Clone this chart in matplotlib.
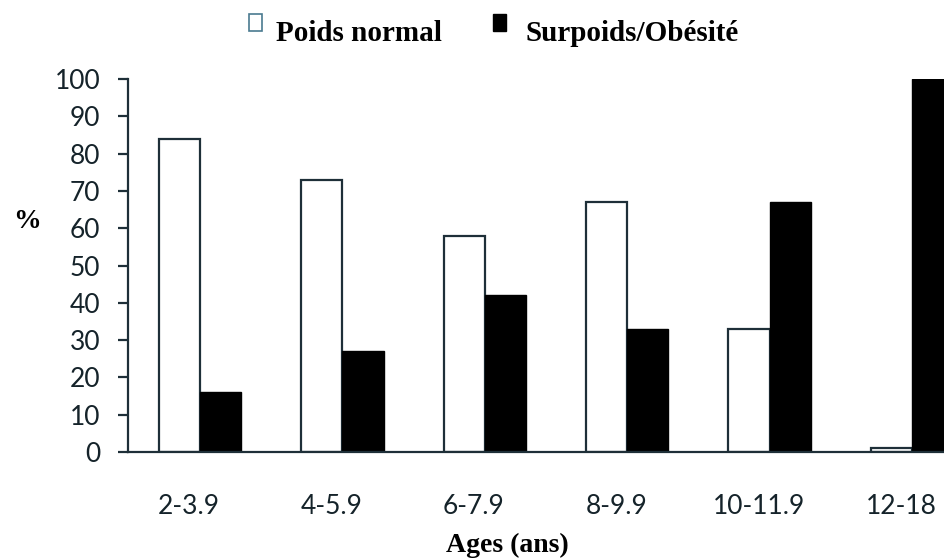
import matplotlib
matplotlib.use('Agg')
import matplotlib.pyplot as plt
import matplotlib.transforms as mtransforms
from matplotlib.patches import Rectangle
import numpy as np

# data
age_groups = ['2-3.9', '4-5.9', '6-7.9', '8-9.9', '10-11.9', '12-18']
poids_normal = [84, 73, 58, 67, 33, 1]
surpoids = [16, 27, 42, 33, 67, 100]
yticks = list(range(0, 101, 10))

W, H = 945, 560
edge = '#1e2f38'
serif = 'Liberation Serif'
sans = 'Lato'

fig = plt.figure(figsize=(W / 100, H / 100), dpi=100)
ax = fig.add_axes([128 / W, (H - 452) / H, 1 - 128 / W, (452 - 79) / H])

x = np.arange(len(age_groups))
bw = 0.29
ax.bar(x - bw / 2, poids_normal, bw, color='white', edgecolor=edge, linewidth=1.6)
ax.bar(x + bw / 2, surpoids, bw, color='black', edgecolor='black', linewidth=1.0)

ax.set_xlim(-0.506, 5.232)
ax.set_ylim(0, 100)
ax.set_yticks(yticks)
ax.set_xticks(x)
ax.set_xticklabels(age_groups)

for s in ['top', 'right']:
    ax.spines[s].set_visible(False)
for s in ['left', 'bottom']:
    ax.spines[s].set_color(edge)
    ax.spines[s].set_linewidth(1.6)
ax.spines['bottom'].set_zorder(3)

ax.tick_params(axis='y', direction='out', length=7, width=1.6, color=edge,
               pad=13, labelsize=19, labelcolor='#15232a')
ax.tick_params(axis='x', length=0, pad=30, labelsize=19, labelcolor='#15232a')
for lab in ax.get_xticklabels() + ax.get_yticklabels():
    lab.set_fontfamily(sans)

# x labels sit a little left of the group centres in the reference
shift = mtransforms.ScaledTranslation(-11 / 100, 0, fig.dpi_scale_trans)
for lab in ax.get_xticklabels():
    lab.set_transform(lab.get_transform() + shift)

# axis titles
fig.text(507 / W, (H - 545) / H, 'Ages (ans)', ha='center', va='center',
         family=serif, weight='bold', fontsize=20)
fig.text(27 / W, (H - 221) / H, '%', ha='center', va='center',
         family=serif, weight='bold', fontsize=20)

# legend drawn by hand
fig.patches.append(Rectangle((249 / W, (H - 31) / H), 13 / W, 17 / H,
                             transform=fig.transFigure, facecolor='white',
                             edgecolor='#4a7a90', linewidth=1.2))
fig.patches.append(Rectangle((493 / W, (H - 31) / H), 13 / W, 17 / H,
                             transform=fig.transFigure, facecolor='black',
                             edgecolor='black', linewidth=1.0))
fig.text(276 / W, (H - 41) / H, 'Poids normal', ha='left', va='baseline',
         family=serif, weight='bold', fontsize=21)
fig.text(526 / W, (H - 41) / H, 'Surpoids/Obésité', ha='left', va='baseline',
         family=serif, weight='bold', fontsize=21)

fig.savefig('out.png', dpi=100, facecolor='white')
